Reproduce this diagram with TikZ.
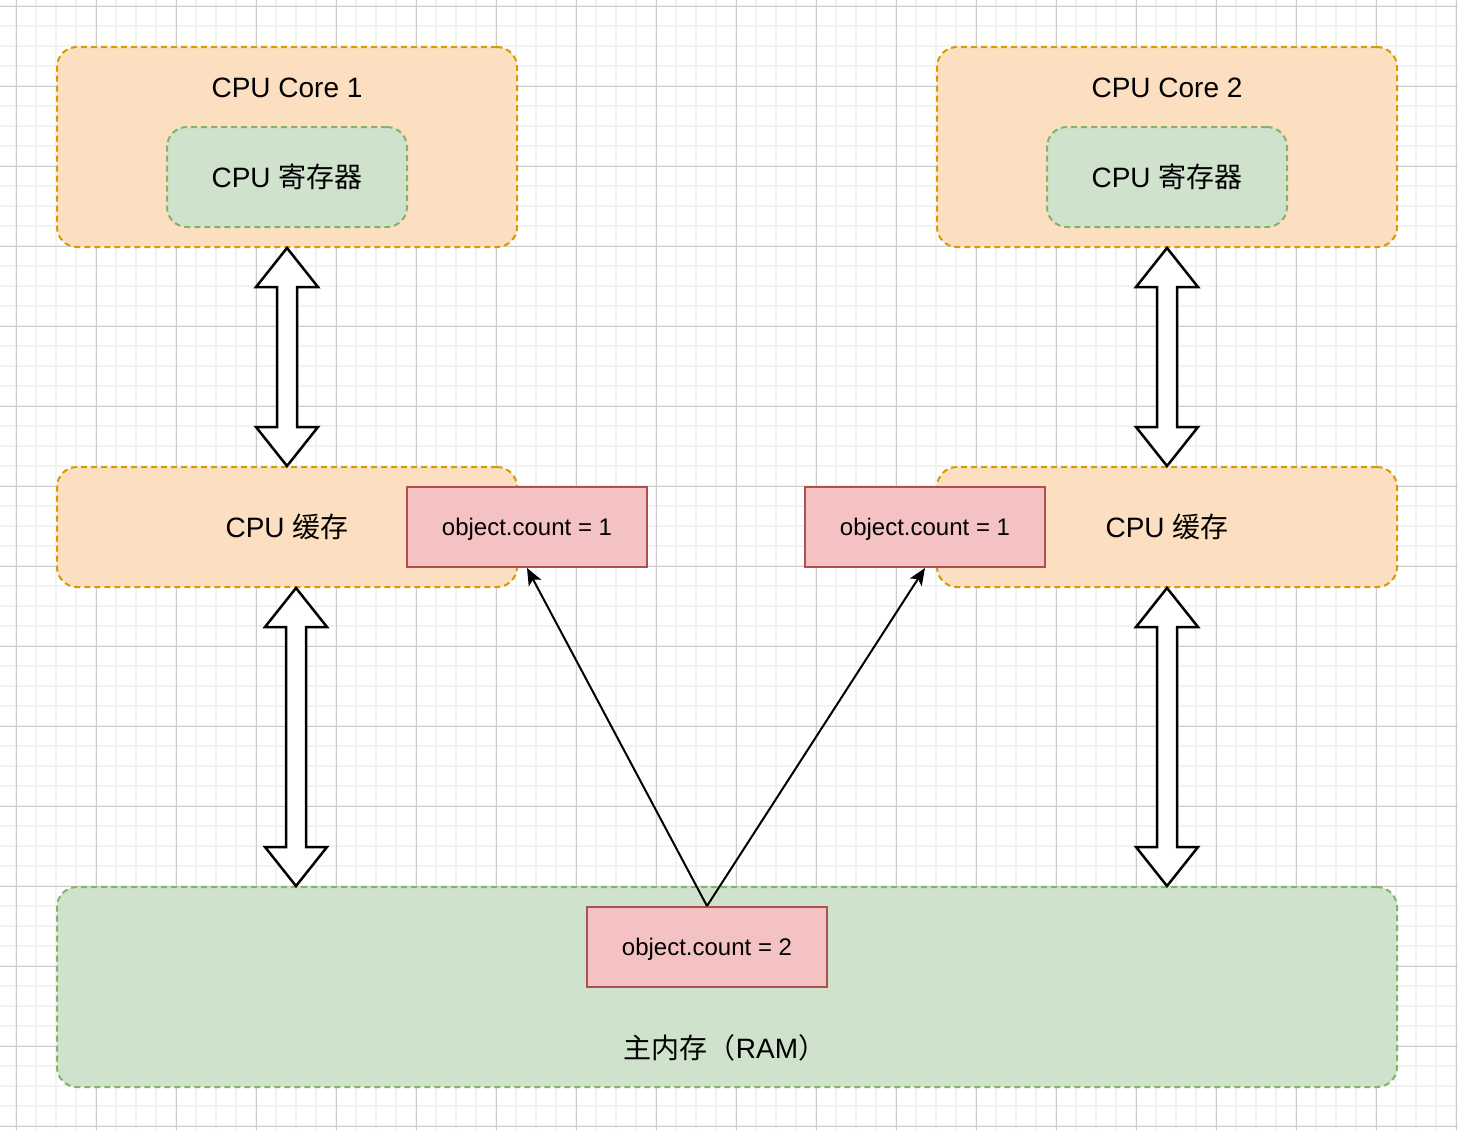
\documentclass[tikz,border=0pt]{standalone}
\usepackage{fontspec}
\setmainfont{Liberation Sans}
\newfontfamily\cjk{Noto Sans CJK SC}
\usetikzlibrary{calc,arrows.meta}

\definecolor{corefill}{HTML}{FCDFC0}
\definecolor{coreline}{HTML}{D79B00}
\definecolor{regfill}{HTML}{CFE3CC}
\definecolor{regline}{HTML}{82B366}
\definecolor{valfill}{HTML}{F4C2C2}
\definecolor{valline}{HTML}{B0504C}

\newcommand\lblsize{\fontsize{28pt}{34pt}\selectfont}
\newcommand\valsize{\fontsize{24pt}{29pt}\selectfont}

\tikzset{
  dashbox/.style={rounded corners=20pt, line width=2pt, dash pattern=on 6pt off 4pt,
    inner sep=0pt, font=\lblsize},
  corebox/.style={dashbox, draw=coreline, fill=corefill},
  regbox/.style={dashbox, draw=regline, fill=regfill},
  valbox/.style={draw=valline, fill=valfill, line width=2pt, inner sep=0pt,
    minimum width=240pt, minimum height=80pt, text depth=0pt, font=\valsize},
  blockarrow/.style={draw=black, fill=white, line width=2.5pt, line join=miter},
  copyline/.style={line width=2pt, -{Stealth[length=17pt,width=14pt,inset=4pt]}}
}

% double block arrow between two points on one vertical
\newcommand\blockarrow[2]{%
  \draw[blockarrow] let \p1=(#1), \p2=(#2) in
    (\x1,\y1) -- (\x1+31pt,\y1-39pt) -- (\x1+10pt,\y1-39pt) -- (\x1+10pt,\y2+39pt)
    -- (\x1+31pt,\y2+39pt) -- (\x1,\y2) -- (\x1-31pt,\y2+39pt) -- (\x1-10pt,\y2+39pt)
    -- (\x1-10pt,\y1-39pt) -- (\x1-31pt,\y1-39pt) -- cycle;}

\begin{document}
\begin{tikzpicture}[x=1pt, y=-1pt]
  \useasboundingbox[fill=white] (0,0) rectangle (1458,1130);

  % grid
  \foreach \gx in {16,36,...,1456} \draw[gray!10, line width=1.5pt] (\gx,0) -- (\gx,1130);
  \foreach \gy in {6,26,...,1126} \draw[gray!10, line width=1.5pt] (0,\gy) -- (1458,\gy);
  \foreach \gx in {16,96,...,1456} \draw[gray!40, line width=1pt] (\gx,0) -- (\gx,1130);
  \foreach \gy in {6,86,...,1126} \draw[gray!40, line width=1pt] (0,\gy) -- (1458,\gy);

  % cores
  \node[corebox, minimum width=460pt, minimum height=200pt] (core1) at (287,147) {};
  \node[corebox, minimum width=460pt, minimum height=200pt] (core2) at (1167,147) {};
  \node[font=\lblsize] (core1t) at (287,88) {CPU Core 1};
  \node[font=\lblsize] (core2t) at (1167,88) {CPU Core 2};
  \node[regbox, minimum width=240pt, minimum height=100pt] (reg1) at (287,177) {CPU {\cjk 寄存器}};
  \node[regbox, minimum width=240pt, minimum height=100pt] (reg2) at (1167,177) {CPU {\cjk 寄存器}};

  % caches
  \node[corebox, minimum width=460pt, minimum height=120pt] (cache1) at (287,527) {CPU {\cjk 缓存}};
  \node[corebox, minimum width=460pt, minimum height=120pt] (cache2) at (1167,527) {CPU {\cjk 缓存}};
  \node[valbox] (val1) at (527,527) {object.count = 1};
  \node[valbox] (val2) at (925,527) {object.count = 1};

  % main memory
  \node[regbox, minimum width=1340pt, minimum height=200pt] (ram) at (727,987) {};
  \node[font=\lblsize] (ramt) at (725,1048) {{\cjk 主内存（}RAM{\cjk ）}};
  \node[valbox] (valram) at (707,947) {object.count = 2};

  % transfers
  \blockarrow{core1.south}{cache1.north}
  \blockarrow{core2.south}{cache2.north}
  \blockarrow{$(cache1.south)+(9,0)$}{$(ram.north -| cache1.south)+(9,0)$}
  \blockarrow{cache2.south}{ram.north -| cache2.south}

  \draw[copyline] (valram.north) -- (val1.south);
  \draw[copyline] (valram.north) -- (val2.south);
\end{tikzpicture}
\end{document}
